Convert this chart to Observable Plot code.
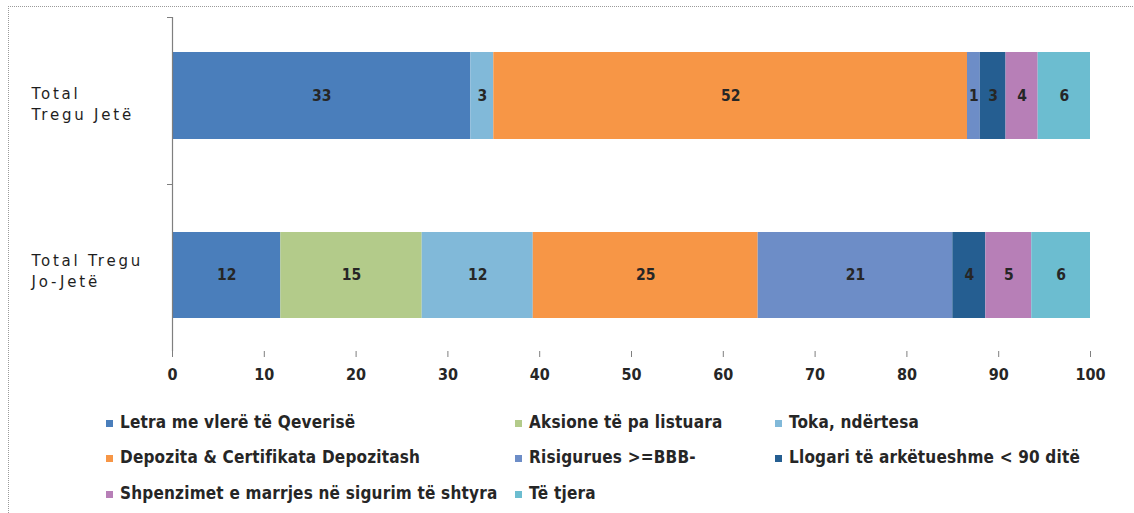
<!DOCTYPE html>
<html><head><meta charset="utf-8">
<script src="https://cdn.jsdelivr.net/npm/d3@7"></script>
<script src="https://cdn.jsdelivr.net/npm/@observablehq/plot@0.6"></script>
<style>
body{margin:0;background:#fff;}
#wrap{position:relative;width:1134px;height:513px;overflow:hidden;font-family:"Liberation Sans Narrow","DejaVu Sans Condensed","Open Sans",sans-serif;}
#border{position:absolute;left:8px;top:6px;width:1200px;height:600px;border-top:1px dotted #9a9a9a;border-left:1px dotted #9a9a9a;}
#chart{position:absolute;left:0;top:0;}
#legend{position:absolute;left:106px;top:404px;display:grid;grid-template-columns:409px 260px 330px;grid-auto-rows:35.5px;}
.item{display:flex;align-items:center;font-size:17px;font-weight:bold;color:#262626;white-space:nowrap;letter-spacing:0.2px;}
.sw{width:7px;height:7px;margin-right:7px;margin-top:3px;flex:none;}
#chart g[aria-label="y-axis tick label"] text{letter-spacing:2.8px;}
</style></head>
<body><div id="wrap"><div id="border"></div><div id="chart"></div><div id="legend"></div></div>
<script>
const categories = ["Total\nTregu Jetë", "Total Tregu\nJo-Jetë"];
const series = [
  "Letra me vlerë të Qeverisë",
  "Aksione të pa listuara",
  "Toka, ndërtesa",
  "Depozita & Certifikata Depozitash",
  "Risigurues >=BBB-",
  "Llogari të arkëtueshme < 90 ditë",
  "Shpenzimet e marrjes në sigurim të shtyra",
  "Të tjera"
];
const colors = ["#4A7EBB", "#B3CB8A", "#81B9D9", "#F79646", "#6D8DC7", "#255E91", "#B77FB7", "#6CBDD0"];
const valuesJete = [32.5, 0, 2.5, 51.6, 1.4, 2.8, 3.5, 5.7];
const valuesJoJete = [11.8, 15.4, 12.1, 24.5, 21.2, 3.6, 5.0, 6.4];
const xTicks = [0, 10, 20, 30, 40, 50, 60, 70, 80, 90, 100];

const rowsFor = (cat, vals) => series.map((s, i) => ({cat, series: s, value: vals[i]})).filter(d => d.value > 0);
const dataJete = rowsFor(categories[0], valuesJete);
const dataJoJete = rowsFor(categories[1], valuesJoJete);

const W = 1134, H = 395, mT = 17, mB = 44;
const halfBand = (H - mT - mB) / categories.length / 2;
const numFont = '"Liberation Sans Narrow","DejaVu Sans Condensed","Open Sans",sans-serif';

function barsAndLabels(data, insetTop, insetBottom) {
  const dy = (insetTop - insetBottom) / 2;
  return [
    Plot.barX(data, Plot.stackX({x: "value", y: "cat", fill: "series", order: series, insetTop, insetBottom})),
    Plot.text(data, Plot.stackX({x: "value", y: "cat", z: "series", order: series, text: d => String(Math.round(d.value)),
      dy, fontWeight: "bold", fontSize: 15.5, fill: "#262626", fontFamily: numFont}))
  ];
}

const chart = Plot.plot({
  width: W, height: H,
  marginLeft: 172, marginRight: 44, marginTop: mT, marginBottom: mB,
  x: {domain: [0, 100]},
  y: {domain: categories, padding: 0},
  color: {domain: series, range: colors},
  style: {background: "transparent", color: "#262626", fontFamily: '"DejaVu Sans",sans-serif', fontSize: "13px"},
  marks: [
    ...barsAndLabels(dataJete, 35, 45),
    ...barsAndLabels(dataJoJete, 48, 33),
    Plot.ruleX([0], {stroke: "#7f7f7f", strokeWidth: 1.2}),
    Plot.axisX({ticks: xTicks, tickSize: 6, tickPadding: 11, line: true, stroke: "#7f7f7f", fill: "#262626",
      fontWeight: "bold", fontSize: 16, fontFamily: numFont, label: null}),
    Plot.axisY({tickSize: 0, tickPadding: 0, textAnchor: "start", dx: -141, dy: 2, lineHeight: 1.4, fontSize: 15, fill: "#1e1e1e", label: null}),
    Plot.axisY({tickSize: 5, tickFormat: () => "", dy: -halfBand, stroke: "#7f7f7f", label: null})
  ]
});
document.getElementById("chart").appendChild(chart);

const legend = document.getElementById("legend");
series.forEach((s, i) => {
  const it = document.createElement("div");
  it.className = "item";
  const sw = document.createElement("span");
  sw.className = "sw";
  sw.style.background = colors[i];
  it.appendChild(sw);
  it.appendChild(document.createTextNode(s));
  legend.appendChild(it);
});
</script></body></html>
